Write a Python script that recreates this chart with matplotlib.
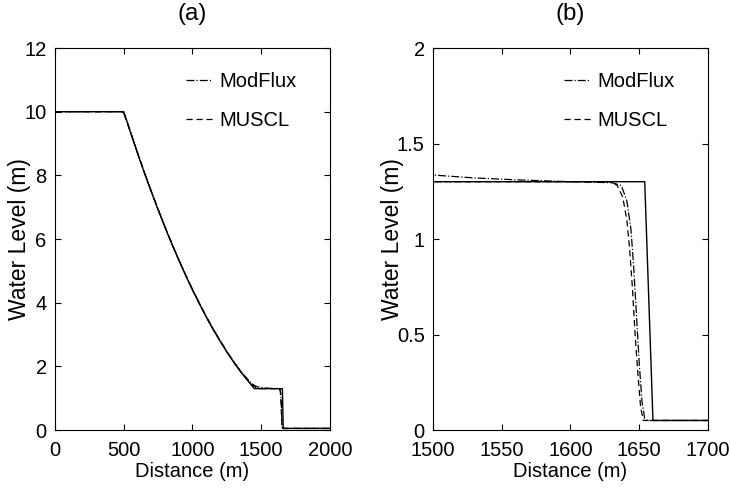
import matplotlib
matplotlib.use("Agg")
import matplotlib.pyplot as plt
from matplotlib.ticker import FormatStrFormatter

plt.rcParams['font.family'] = ['Liberation Sans', 'DejaVu Sans']
plt.rcParams['font.size'] = 14.5

# exact solution (solid line, no legend entry)
x_exact = [0, 500, 550, 600, 650, 700, 750, 800, 850, 900, 950, 1000, 1050, 1100,
           1150, 1200, 1250, 1300, 1350, 1400, 1450, 1654, 1660, 2000]
h_exact = [10.0, 10.0, 9.34, 8.70, 8.08, 7.49, 6.92, 6.37, 5.84, 5.34, 4.86, 4.40, 3.97, 3.55,
           3.16, 2.80, 2.45, 2.13, 1.83, 1.56, 1.30, 1.30, 0.05, 0.05]

# ModFlux (dash-dot)
x_modflux = [0, 480, 500, 520, 550, 600, 650, 700, 750, 800, 850, 900, 950, 1000, 1050, 1100,
             1150, 1200, 1250, 1300, 1350, 1400, 1430, 1450, 1470, 1500, 1530, 1560, 1600,
             1630, 1637, 1641, 1644, 1646, 1648, 1650, 1652, 1654, 1656, 2000]
h_modflux = [10.0, 10.0, 9.97, 9.75, 9.36, 8.72, 8.10, 7.51, 6.94, 6.39, 5.86, 5.36, 4.88, 4.42, 3.99, 3.57,
             3.18, 2.82, 2.47, 2.15, 1.85, 1.60, 1.47, 1.40, 1.36, 1.335, 1.32, 1.31, 1.30,
             1.295, 1.28, 1.20, 1.05, 0.85, 0.60, 0.35, 0.15, 0.06, 0.05, 0.05]

# MUSCL (dashed)
x_muscl = [0, 485, 500, 520, 550, 600, 650, 700, 750, 800, 850, 900, 950, 1000, 1050, 1100,
           1150, 1200, 1250, 1300, 1350, 1400, 1440, 1460, 1480, 1500, 1630, 1634, 1638,
           1641, 1643, 1645, 1647, 1649, 1651, 1653, 2000]
h_muscl = [10.0, 10.0, 9.95, 9.72, 9.35, 8.71, 8.09, 7.50, 6.93, 6.38, 5.85, 5.35, 4.87, 4.41, 3.98, 3.56,
           3.17, 2.81, 2.46, 2.14, 1.84, 1.58, 1.40, 1.34, 1.31, 1.30, 1.30, 1.28, 1.22,
           1.10, 0.95, 0.75, 0.50, 0.30, 0.12, 0.05, 0.05]

panels = ['(a)', '(b)']
xlims = [(0, 2000), (1500, 1700)]
ylims = [(0, 12), (0, 2)]
xticks = [[0, 500, 1000, 1500, 2000], [1500, 1550, 1600, 1650, 1700]]
yticks = [[0, 2, 4, 6, 8, 10, 12], [0, 0.5, 1, 1.5, 2]]

fig = plt.figure(figsize=(7.31, 4.91), dpi=100)
ax_left = [0.0752, 0.5923]
ylabel_x = [-0.128, -0.148]

for i in range(2):
    ax = fig.add_axes([ax_left[i], 0.1242, 0.3762, 0.778])
    ax.plot(x_modflux, h_modflux, color='black', lw=0.9, ls='-.', label='ModFlux')
    ax.plot(x_muscl, h_muscl, color='black', lw=0.9, ls=(0, (5, 3)), label='MUSCL')
    ax.plot(x_exact, h_exact, color='black', lw=1.0, ls='-')
    ax.set_xlim(*xlims[i])
    ax.set_ylim(*ylims[i])
    ax.set_xticks(xticks[i])
    ax.set_yticks(yticks[i])
    ax.yaxis.set_major_formatter(FormatStrFormatter('%g'))
    ax.tick_params(direction='in', top=True, right=True, length=4)
    ax.tick_params(axis='x', pad=8)
    ax.tick_params(axis='y', pad=6)
    ax.set_xlabel('Distance (m)', labelpad=1)
    ax.set_ylabel('Water Level (m)', fontsize=16.5, va='center')
    ax.yaxis.set_label_coords(ylabel_x[i], 0.5)
    ax.set_title(panels[i], pad=20)
    ax.legend(frameon=False, loc='upper left', bbox_to_anchor=(0.41, 0.985),
              handlelength=1.3, handletextpad=0.35, labelspacing=1.0)

fig.savefig('out.png', dpi=100)
